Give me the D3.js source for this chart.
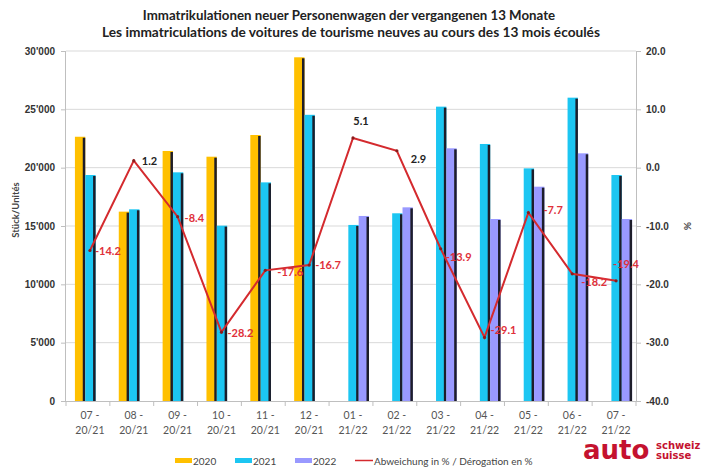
<!DOCTYPE html>
<html>
<head>
<meta charset="UTF-8">
<title>Immatrikulationen neuer Personenwagen</title>
<script src="https://d3js.org/d3.v7.min.js"></script>
<style>
    *{ margin:0; padding:0; }
    body{ background:#fff; }
    svg{ display:block; font-family: Lato, "Liberation Sans", sans-serif; }
    .grid line{ stroke:#d9d9d9; stroke-width:1px; }
    .axis path, .axis line{ stroke:#bfbfbf; }
    .axis text{ font-weight:bold; font-size:10px; fill:#333; }
</style>
</head>
<body>
<svg id="main" width="704" height="468"></svg>
<script>
// categories (two line labels)
const monthLabels = ["07 -", "08 -", "09 -", "10 -", "11 -", "12 -", "01 -", "02 -", "03 -", "04 -", "05 -", "06 -", "07 -"];
const periodLabels = ["20/21", "20/21", "20/21", "20/21", "20/21", "20/21", "21/22", "21/22", "21/22", "21/22", "21/22", "21/22", "21/22"];

// units per month
const units2020 = [22650, 16230, 21430, 20940, 22800, 29460, null, null, null, null, null, null, null];
const units2021 = [19370, 16430, 19600, 15030, 18740, 24530, 15090, 16090, 25230, 22030, 19940, 26000, 19370];
const units2022 = [null, null, null, null, null, null, 15860, 16600, 21660, 15600, 18370, 21230, 15600];

// deviation in %
const deviation = [-14.2, 1.2, -8.4, -28.2, -17.6, -16.7, 5.1, 2.9, -13.9, -29.1, -7.7, -18.2, -19.4];

const leftTicks = [0, 5000, 10000, 15000, 20000, 25000, 30000];
const rightTicks = [-40, -30, -20, -10, 0, 10, 20];

const seriesNames = ["2020", "2021", "2022"];
const seriesColors = ["#FFC000", "#1CC6F2", "#9999FF"];
const lineName = "Abweichung in % / Dérogation en %";

// where each data label sits relative to its point
const labelOffsets = [
    [5, 4, "start"], [8, 4, "start"], [7, 5, "start"], [6, 5, "start"], [12, 6, "start"],
    [6, 4, "start"], [8, -13, "middle"], [14, 12, "start"], [5, 12, "start"], [6, -3, "start"],
    [15, 1, "start"], [9, 12, "start"], [-3, -13, "start"]
];

const svg = d3.select("#main");
const plotL = 66, plotR = 636, plotT = 51, plotB = 401;

const x = d3.scaleBand().domain(d3.range(monthLabels.length)).range([plotL, plotR]);
const xs = d3.scaleBand().domain(seriesNames).range([-13, 18]);
const yL = d3.scaleLinear().domain([0, 30000]).range([plotB, plotT]);
const yR = d3.scaleLinear().domain([-40, 20]).range([plotB, plotT]);

const fmt = d3.formatLocale({ decimal: ".", thousands: "'", grouping: [3], currency: ["", ""] }).format(",d");

// title
const title = svg.append("g").attr("font-weight", "bold").attr("fill", "#222").attr("text-anchor", "middle");
function fitText(sel, width) {
    const w = sel.node().getComputedTextLength();
    sel.attr("font-size", 13 * width / w);
}
fitText(title.append("text").attr("x", 349).attr("y", 20).attr("font-size", 13)
    .text("Immatrikulationen neuer Personenwagen der vergangenen 13 Monate"), 413);
fitText(title.append("text").attr("x", 351).attr("y", 37).attr("font-size", 13)
    .text("Les immatriculations de voitures de tourisme neuves au cours des 13 mois écoulés"), 498);

// gridlines
svg.append("g").attr("class", "grid")
    .selectAll("line").data(leftTicks.slice(1)).join("line")
    .attr("x1", plotL).attr("x2", plotR)
    .attr("y1", d => yL(d)).attr("y2", d => yL(d));

// bars
const barData = [];
[units2020, units2021, units2022].forEach((arr, s) => {
    arr.forEach((v, i) => { if (v != null) barData.push({ i, s, v }); });
});
const bars = svg.append("g").selectAll("g").data(barData).join("g")
    .attr("transform", d => `translate(${x(d.i) + x.bandwidth() / 2 + xs(seriesNames[d.s])},0)`);
bars.append("rect")
    .attr("x", 0).attr("width", xs.bandwidth())
    .attr("y", d => yL(d.v)).attr("height", d => plotB - yL(d.v))
    .attr("fill", d => seriesColors[d.s]);
bars.append("rect")
    .attr("x", xs.bandwidth() - 2.5).attr("width", 2.5)
    .attr("y", d => yL(d.v) + 1).attr("height", d => plotB - yL(d.v) - 1)
    .attr("fill", "#1d1d2a");

// left axis
const axL = svg.append("g").attr("class", "axis")
    .attr("transform", `translate(${plotL},0)`)
    .call(d3.axisLeft(yL).tickValues(leftTicks).tickSize(5).tickPadding(6).tickFormat(fmt));

// right axis
const axR = svg.append("g").attr("class", "axis")
    .attr("transform", `translate(${plotR},0)`)
    .call(d3.axisRight(yR).tickValues(rightTicks).tickSize(5).tickPadding(5).tickFormat(d => d.toFixed(1)));
axR.selectAll("text").attr("fill", d => d < 0 ? "#E0403A" : "#333");
axL.select(".domain").attr("d", `M-0.5,${plotT}V${plotB}`);
axR.select(".domain").attr("d", `M0.5,${plotT}V${plotB}`);

// bottom axis
const axB = svg.append("g").attr("class", "axis");
axB.append("line").attr("x1", plotL).attr("x2", plotR).attr("y1", plotB + 0.5).attr("y2", plotB + 0.5);
axB.selectAll(".tk").data(d3.range(monthLabels.length + 1)).join("line")
    .attr("x1", d => plotL + d * x.step()).attr("x2", d => plotL + d * x.step())
    .attr("y1", plotB).attr("y2", plotB + 5);
const xl = svg.append("g").attr("font-size", 10.5).attr("fill", "#555").attr("text-anchor", "middle");
xl.selectAll("text.m").data(monthLabels).join("text")
    .attr("x", (d, i) => x(i) + x.bandwidth() / 2 + 2).attr("y", 419).text(d => d);
xl.selectAll("text.p").data(periodLabels).join("text")
    .attr("x", (d, i) => x(i) + x.bandwidth() / 2 + 2).attr("y", 434).text(d => d);

// axis titles
svg.append("text").attr("transform", "translate(19,210) rotate(-90)")
    .attr("text-anchor", "middle").attr("font-size", 9.5).attr("font-weight", "bold").attr("fill", "#444")
    .text("Stück/Unités");
svg.append("text").attr("transform", "translate(684,226) rotate(90)")
    .attr("text-anchor", "middle").attr("font-size", 10).attr("font-weight", "bold").attr("fill", "#444")
    .text("%");

// deviation line
const cx = i => x(i) + x.bandwidth() / 2 + 2;
svg.append("path").datum(deviation)
    .attr("fill", "none").attr("stroke", "#D42A2E").attr("stroke-width", 2)
    .attr("d", d3.line().x((d, i) => cx(i)).y(d => yR(d)));
svg.append("g").selectAll("circle").data(deviation).join("circle")
    .attr("cx", (d, i) => cx(i)).attr("cy", d => yR(d)).attr("r", 1.6).attr("fill", "#8a1c1c");
svg.append("g").attr("font-size", 11).attr("font-weight", "bold")
    .selectAll("text").data(deviation).join("text")
    .attr("x", (d, i) => cx(i) + labelOffsets[i][0])
    .attr("y", (d, i) => yR(d) + labelOffsets[i][1])
    .attr("text-anchor", (d, i) => labelOffsets[i][2])
    .attr("fill", d => d < 0 ? "#E0303A" : "#222")
    .text(d => d.toFixed(1));

// legend
const legend = svg.append("g").attr("font-size", 10).attr("fill", "#444");
const legX = [175, 235, 295];
seriesNames.forEach((s, k) => {
    legend.append("rect").attr("x", legX[k]).attr("y", 458).attr("width", 17).attr("height", 5).attr("fill", seriesColors[k]);
    legend.append("text").attr("x", legX[k] + 18).attr("y", 464.5).text(s);
});
legend.append("line").attr("x1", 355).attr("x2", 373).attr("y1", 460.5).attr("y2", 460.5)
    .attr("stroke", "#D42A2E").attr("stroke-width", 1.5);
legend.append("text").attr("x", 374).attr("y", 464.5).text(lineName);

// logo
const logo = svg.append("g").attr("fill", "#C4122F").attr("font-weight", "bold")
    .attr("font-family", "'DejaVu Sans', sans-serif");
logo.append("text").attr("x", 583).attr("y", 459).attr("font-size", 26).text("auto");
logo.append("text").attr("x", 656).attr("y", 449).attr("font-size", 10).text("schweiz");
logo.append("text").attr("x", 656).attr("y", 459).attr("font-size", 10).text("suisse");
</script>
</body>
</html>
